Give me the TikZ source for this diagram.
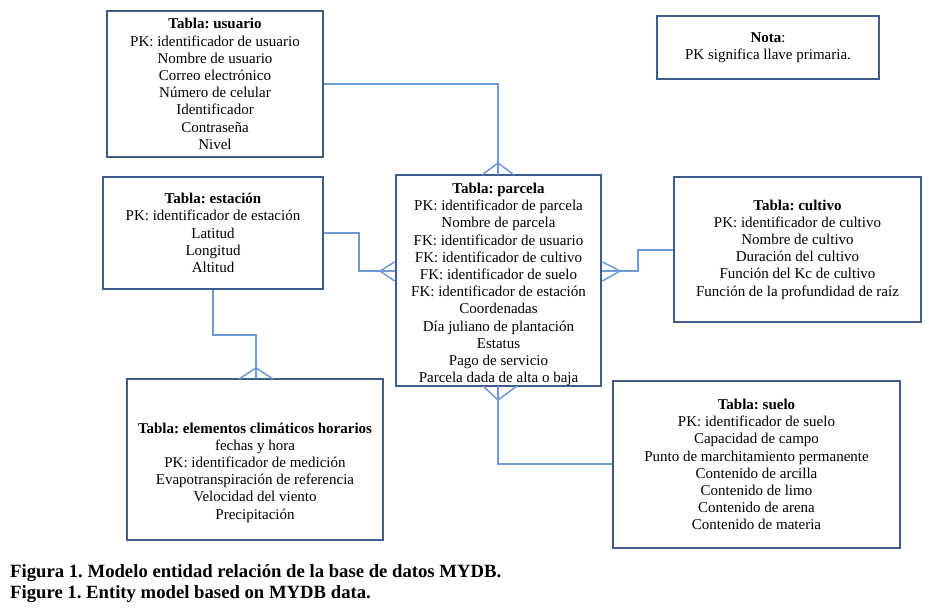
\documentclass[tikz,border=0pt]{standalone}
\usepackage{fontspec}
\setmainfont{Liberation Serif}
\frenchspacing
\definecolor{boxc}{HTML}{3E5D8C}
\definecolor{linec}{HTML}{6F9AD6}
\begin{document}
\begin{tikzpicture}[x=1pt,y=-1pt,
  tbox/.style={draw=boxc,line width=2.8pt,rectangle,inner sep=0pt,align=center,
    font=\fontsize{15}{17.2}\selectfont,fill=white},
  ttext/.style={inner sep=0pt,align=center,font=\fontsize{15}{17.2}\selectfont},
  conn/.style={draw=linec,line width=1.5pt},
  captext/.style={anchor=base west,inner sep=0pt,font=\fontsize{18.7}{22}\selectfont\bfseries}]
\useasboundingbox (0,0) rectangle (929,615);
\node[tbox,minimum width=216,minimum height=146] (usuario) at (215,84)
  {\textbf{Tabla: usuario}\\PK: identificador de usuario\\Nombre de usuario\\Correo electrónico\\Número de celular\\Identificador\\Contraseña\\Nivel};
\node[tbox,minimum width=222,minimum height=63] (nota) at (768,47.5)
  {\textbf{Nota}:\\PK significa llave primaria.};
\node[tbox,minimum width=220,minimum height=112] (estacion) at (213,233)
  {\textbf{Tabla: estación}\\PK: identificador de estación\\Latitud\\Longitud\\Altitud};
\node[tbox,minimum width=205,minimum height=211] (parcela) at (498.5,280.5) {};
\node[ttext] (parcelaT) at (498.5,284.5)
  {\textbf{Tabla: parcela}\\PK: identificador de parcela\\Nombre de parcela\\FK: identificador de usuario\\FK: identificador de cultivo\\FK: identificador de suelo\\FK: identificador de estación\\Coordenadas\\Día juliano de plantación\\Estatus\\Pago de servicio\\Parcela dada de alta o baja};
\node[tbox,minimum width=247,minimum height=145] (cultivo) at (797.5,249.5)
  {\textbf{Tabla: cultivo}\\PK: identificador de cultivo\\Nombre de cultivo\\Duración del cultivo\\Función del Kc de cultivo\\Función de la profundidad de raíz};
\node[tbox,minimum width=256,minimum height=161] (elementos) at (255,459.5) {};
\node[ttext] (elementosT) at (255,472.5)
  {\textbf{Tabla: elementos climáticos horarios}\\fechas y hora\\PK: identificador de medición\\Evapotranspiración de referencia\\Velocidad del viento\\Precipitación};
\node[tbox,minimum width=287,minimum height=167] (suelo) at (756.5,464.5)
  {\textbf{Tabla: suelo}\\PK: identificador de suelo\\Capacidad de campo\\Punto de marchitamiento permanente\\Contenido de arcilla\\Contenido de limo\\Contenido de arena\\Contenido de materia};
% connectors
\coordinate (u1) at (498,84);
\draw[conn] (usuario.east |- u1) -- (u1) -- (498,175);
\coordinate (cfu) at (498,163);
\draw[conn] (482,175) -- (cfu) -- (514,175);
\coordinate (e1) at (359,233);
\coordinate (e2) at (359,271);
\draw[conn] (estacion.east |- e1) -- (e1) -- (e2) -- (parcela.west |- e2);
\coordinate (cfe) at (380,271);
\draw[conn] (parcela.west |- 0,262) -- (cfe) -- (parcela.west |- 0,281);
\coordinate (s1) at (213,335);
\coordinate (s2) at (256,335);
\draw[conn] (estacion.south) -- (s1) -- (s2) -- (s2 |- elementos.north);
\coordinate (cfs) at (256,368);
\draw[conn] (239,379) -- (cfs) -- (273,379);
\coordinate (c1) at (638,250);
\coordinate (c2) at (638,271);
\draw[conn] (cultivo.west |- c1) -- (c1) -- (c2) -- (parcela.east |- c2);
\coordinate (cfc) at (620,271);
\draw[conn] (parcela.east |- 0,262) -- (cfc) -- (parcela.east |- 0,281);
\coordinate (p1) at (498,464);
\draw[conn] (498,386) -- (p1) -- (suelo.west |- p1);
\coordinate (cfp) at (498,400);
\draw[conn] (483,386) -- (cfp) -- (517,386);
\node[captext] (cap1) at (10,577) {Figura 1. Modelo entidad relación de la base de datos MYDB.};
\node[captext] (cap2) at (10,598) {Figure 1. Entity model based on MYDB data.};
\end{tikzpicture}
\end{document}
